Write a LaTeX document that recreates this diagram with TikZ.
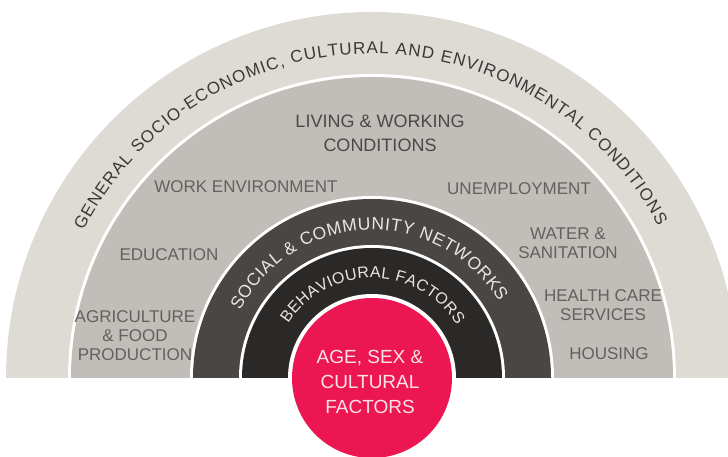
\documentclass[tikz,border=0pt]{standalone}
\usepackage{fontspec}
\setmainfont{Liberation Sans}
\usetikzlibrary{decorations.text}

\definecolor{bandouter}{HTML}{DDDBD4}
\definecolor{bandliving}{HTML}{C1BEB9}
\definecolor{bandsocial}{HTML}{4A4643}
\definecolor{bandbehav}{HTML}{2B2927}
\definecolor{corered}{HTML}{EC1652}
\definecolor{labelgray}{HTML}{63615E}
\definecolor{titlegray}{HTML}{4B4946}
\definecolor{outertext}{HTML}{3A3938}
\definecolor{lighttext}{HTML}{E8E6E3}
\definecolor{coretext}{HTML}{FBE3EA}

% half disc of radius #2 standing on the base line through (C)
\newcommand\bandhalf[2]{\fill[#1] (C) ++(#2,0) arc[start angle=0,end angle=180,radius=#2] -- cycle;}

\tikzset{
  factor/.style={font=\fontsize{17}{19}\selectfont, text=labelgray, align=center, inner sep=0pt},
  title/.style={font=\fontsize{18}{24}\selectfont, text=titlegray, align=center, inner sep=0pt},
  core/.style={font=\fontsize{19}{25}\selectfont, text=coretext, align=center, inner sep=0pt}
}

\begin{document}
\begin{tikzpicture}[x=1pt,y=1pt]
  \useasboundingbox (0,0) rectangle (728,457);
  \clip (0,0) rectangle (728,457);
  \coordinate (C) at (372,79);

  % nested bands, separated by thin white rings
  \bandhalf{bandouter}{366}
  \bandhalf{white}{304}
  \bandhalf{bandliving}{301}
  \bandhalf{white}{182}
  \bandhalf{bandsocial}{179}
  \bandhalf{white}{133}
  \bandhalf{bandbehav}{130}
  \bandhalf{white}{84}
  \fill[corered] (C) circle[radius=80];

  % curved band titles
  \path[decorate, decoration={text along path, text align=fit to path, text color=outertext,
      text={|\fontsize{17}{20}\selectfont|GENERAL SOCIO-ECONOMIC, CULTURAL AND ENVIRONMENTAL CONDITIONS}}]
    (C) ++(153:324) arc[start angle=153, end angle=28, radius=324];
  \path[decorate, decoration={text along path, text align=fit to path, text color=lighttext,
      text={|\fontsize{17.5}{20}\selectfont|SOCIAL {\&} COMMUNITY NETWORKS}}]
    (C) ++(153:148) arc[start angle=153, end angle=31, radius=148];
  \path[decorate, decoration={text along path, text align=fit to path, text color=lighttext,
      text={|\fontsize{16}{19}\selectfont|BEHAVIOURAL FACTORS}}]
    (C) ++(147:100) arc[start angle=147, end angle=32, radius=100];

  % living & working conditions band
  \node[title]  (living) at (380,323.5) {LIVING \& WORKING\\CONDITIONS};
  \node[factor] (work)   at (246,270.5) {WORK ENVIRONMENT};
  \node[factor] (unemp)  at (519,268.5) {UNEMPLOYMENT};
  \node[factor] (edu)    at (169,202)   {EDUCATION};
  \node[factor] (agri)   at (135,121)   {AGRICULTURE\\\& FOOD\\PRODUCTION};
  \node[factor] (water)  at (568,213.5) {WATER \&\\SANITATION};
  \node[factor] (health) at (603,152)   {HEALTH CARE\\SERVICES};
  \node[factor] (house)  at (609,103)   {HOUSING};

  % core circle
  \node[core] (age) at (370,75.5) {AGE, SEX \&\\CULTURAL\\FACTORS};
\end{tikzpicture}
\end{document}
